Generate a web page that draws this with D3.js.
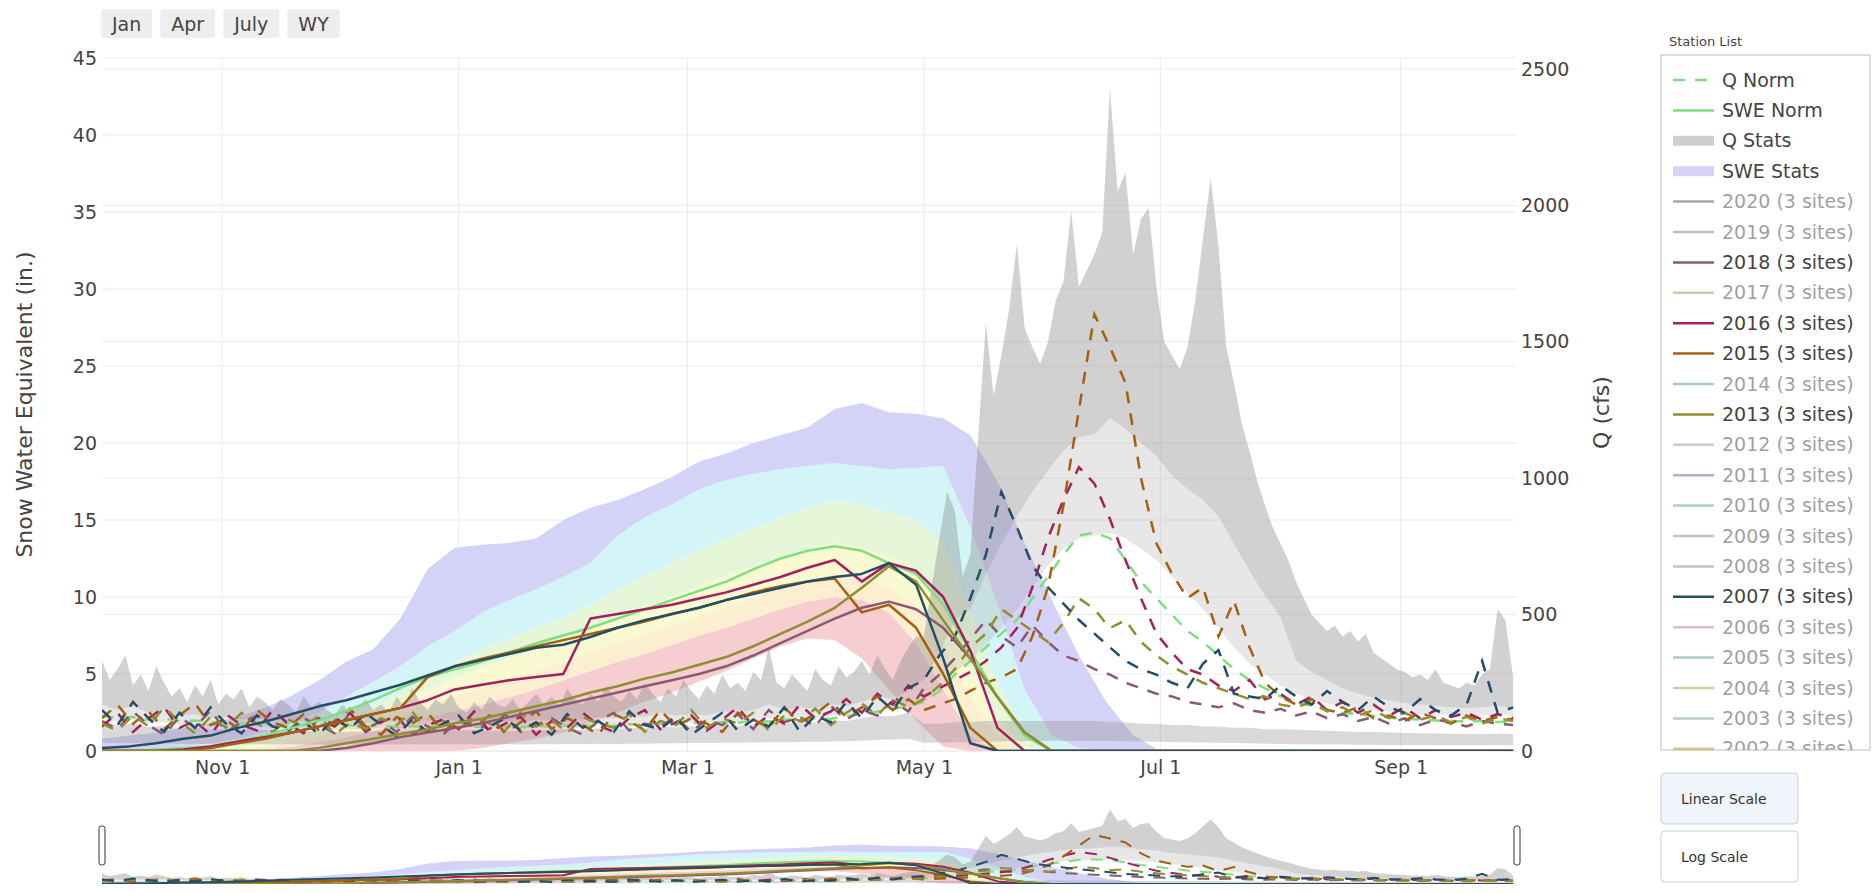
<!DOCTYPE html>
<html>
<head>
<meta charset="utf-8">
<script src="https://cdn.jsdelivr.net/npm/d3@7"></script>
<style>
  body { margin: 0; background: #fff; }
  text { font-family: "DejaVu Sans", Verdana, sans-serif; }
</style>
</head>
<body>
<div id="chart"></div>
<script>
// water year, Oct 1 -> Sep 30
var wyStart = new Date(Date.UTC(2020, 9, 1));
var wyEnd = new Date(Date.UTC(2021, 9, 1));

var sweDates = d3.range(53).map(function(i) { return d3.utcDay.offset(wyStart, 7 * i); });
var qDates = d3.range(92).map(function(i) { return d3.utcDay.offset(wyStart, 4 * i); });
var qMaxDates = d3.range(183).map(function(i) { return d3.utcDay.offset(wyStart, 2 * i); });

// ---- SWE stats (in.) ----
var sweMin = [0,0,0,0,0,0,0,0,0,0,0,0,0,0,0.2,0.5,0.8,1.2,1.8,2.5,3.2,3.8,4.5,5.2,6.0,6.8,7.3,7.2,6.0,4.0,2.0,0.3,0,0,0,0,0,0,0,0,0,0,0,0,0,0,0,0,0,0,0,0,0];
var sweP10 = [0,0,0,0,0,0,0.1,0.3,0.6,0.9,1.3,1.8,2.2,2.6,3.0,3.5,4.0,4.6,5.2,5.8,6.3,6.9,7.5,8.0,8.6,9.2,9.7,10.0,9.8,9.0,7.0,4.0,1.0,0,0,0,0,0,0,0,0,0,0,0,0,0,0,0,0,0,0,0,0];
var sweP25 = [0,0,0,0,0,0.1,0.3,0.6,1.0,1.4,1.9,2.4,3.0,3.6,4.1,4.6,5.2,5.8,6.4,7.0,7.6,8.2,8.8,9.4,10.0,10.6,11.1,11.5,11.3,10.6,9.5,7.0,3.5,1.0,0,0,0,0,0,0,0,0,0,0,0,0,0,0,0,0,0,0,0];
var sweP50 = [0,0,0,0,0.1,0.3,0.6,1.0,1.4,1.9,2.5,3.2,4.0,4.8,5.4,6.0,6.6,7.2,7.9,8.6,9.3,10.0,10.7,11.4,12.0,12.6,13.1,13.5,13.2,12.6,11.8,9.5,5.5,2.0,0.3,0,0,0,0,0,0,0,0,0,0,0,0,0,0,0,0,0,0];
var sweP75 = [0,0,0,0.1,0.3,0.5,0.8,1.2,1.7,2.3,3.0,3.8,4.8,5.8,6.6,7.3,8.0,8.7,9.5,10.5,11.4,12.2,13.0,13.8,14.5,15.2,15.8,16.3,16.0,15.5,15.0,13.5,9.0,4.5,1.0,0.2,0,0,0,0,0,0,0,0,0,0,0,0,0,0,0,0,0];
var sweP90 = [0,0,0.1,0.3,0.5,0.8,1.2,1.8,2.5,3.5,4.5,5.5,6.8,7.8,9.0,9.8,10.5,11.3,12.2,14.0,15.2,16.0,17.0,17.6,18.0,18.3,18.5,18.7,18.5,18.3,18.4,18.5,14.5,9.5,4.0,1.0,0.2,0,0,0,0,0,0,0,0,0,0,0,0,0,0,0,0];
var sweMax = [0.8,1.0,1.2,1.5,1.8,2.2,2.8,3.6,4.6,5.8,6.6,8.6,11.8,13.2,13.4,13.5,13.8,15.0,15.8,16.3,17.0,17.8,18.8,19.3,20.0,20.5,21.0,22.2,22.6,22.0,21.9,21.6,20.5,17.5,13.5,9.8,6.2,3.2,1.0,0,0,0,0,0,0,0,0,0,0,0,0,0,0];

// ---- SWE lines (in.) ----
var sweNorm = [0,0,0.1,0.2,0.3,0.6,1.0,1.5,2.0,2.6,3.3,4.1,4.8,5.3,5.8,6.4,7.0,7.5,8.0,8.6,9.2,9.8,10.4,11.0,11.8,12.5,13.0,13.3,13.0,12.2,11.5,9.5,6.5,3.5,1.0,0,0,0,0,0,0,0,0,0,0,0,0,0,0,0,0,0,0];
var swe2018 = [0,0,0,0,0,0,0,0,0,0.2,0.5,0.9,1.2,1.5,1.8,2.2,2.6,3.0,3.4,3.8,4.2,4.6,5.0,5.5,6.2,7.0,7.8,8.6,9.3,9.7,9.2,8.0,6.0,3.5,1.2,0,0,0,0,0,0,0,0,0,0,0,0,0,0,0,0,0,0];
var swe2016 = [0,0,0,0.1,0.3,0.6,0.9,1.2,1.6,2.0,2.4,2.8,3.3,4.0,4.3,4.6,4.8,5.0,8.6,8.9,9.2,9.5,9.9,10.3,10.8,11.3,11.9,12.4,11.0,12.2,11.7,10.0,6.5,1.5,0,0,0,0,0,0,0,0,0,0,0,0,0,0,0,0,0,0,0];
var swe2015 = [0,0,0,0,0.2,0.5,0.8,1.2,1.6,2.0,2.4,2.8,4.8,5.5,6.0,6.4,6.8,7.2,7.6,8.0,8.4,8.9,9.3,9.8,10.3,10.7,11.0,11.2,9.0,9.5,8.0,5.0,1.5,0,0,0,0,0,0,0,0,0,0,0,0,0,0,0,0,0,0,0,0];
var swe2013 = [0,0,0,0,0,0,0,0,0.2,0.5,0.8,1.1,1.4,1.8,2.1,2.5,2.9,3.3,3.8,4.2,4.7,5.1,5.6,6.1,6.8,7.6,8.4,9.3,10.6,12.0,11.0,8.5,6.0,3.5,1.2,0,0,0,0,0,0,0,0,0,0,0,0,0,0,0,0,0,0];
var swe2007 = [0.2,0.3,0.5,0.8,1.0,1.5,1.9,2.4,2.9,3.3,3.8,4.3,4.9,5.5,5.9,6.3,6.7,6.9,7.4,8.0,8.5,8.9,9.3,9.8,10.2,10.6,11.0,11.3,11.5,12.2,10.8,6.0,0.5,0,0,0,0,0,0,0,0,0,0,0,0,0,0,0,0,0,0,0,0];

// ---- Q stats (cfs) ----
var qMin = [30,28,29,27,28,26,27,25,26,25,25,24,25, 24,24,23,24,23,24,24,25,24,25,25,25,24, 25,24,25,25,26,26,27,26,27,27,28,28,29, 29,30,30,31,32,32,33,34,35,36,38,40,42,45,
  30,30,32,33,34,35,36,37,38,38, 38,38,37,36,35,34,33,32,31,30, 29,28,27,26,25,25,24,24,23,23, 22,22,22,21,21,21,21,22,21];
var q25 = [106,93,102,88,93,84,86,79,81,77,79,74,77, 71,74,70,71,70,74,71,77,74,78,75,77,73, 75,73,77,75,80,78,83,80,85,84,89,87,91, 89,94,93,98,104,100,106,104,112,110,120,128,128,140,
  100,100,105,105,110,110,110,110,110,110, 110,110,105,105,100,100,95,95,90,90, 85,85,80,80,78,76,74,72,70,70, 68,66,65,64,63,62,62,63,62];
var q75 = [120,105,115,100,105,95,98,90,92,88,90,85,88, 82,85,80,82,80,85,82,88,85,90,86,88,84, 86,84,88,86,92,90,95,92,98,96,102,100,104, 102,108,106,112,120,115,122,120,130,128,140,150,150,165,
  185,230,290,330,390,450,520,600,680,740, 780,790,800,780,740,700,640,580,520,450, 380,320,280,240,210,190,175,165,158,150, 145,140,136,133,130,128,130,135,128];
var q90 = [170,150,165,140,150,130,135,120,125,115,120,110,115, 105,110,100,105,100,110,105,115,110,120,110,115,105, 110,105,115,110,120,115,125,120,130,125,140,130,135, 130,145,140,150,170,150,160,155,170,165,180,200,190,220,
  260,360,480,520,650,760,860,950,1030,1100, 1150,1160,1220,1180,1130,1080,1010,960,920,860, 760,660,570,490,330,290,260,230,210,195, 185,175,170,165,160,158,160,165,158];
var qMax = [330,260,300,350,240,280,220,310,250,200,230, 180,240,200,260,170,210,190,230,160,200,180, 150,190,170,140,200,160,180,150,130,170,140,
  160,190,150,170,140,200,160,230,180,150,190, 170,210,160,140,180,150,200,170,160,190,150, 180,210,170,200,160,230,190,170,210,180,240,
  200,180,220,190,250,210,180,230,200,260,220, 190,240,210,280,230,250,220,290,260,380,250, 230,280,250,220,300,260,240,310,270,290,330,
  280,350,300,260,330,380,420,
  420,600,780,950,880,640,720,1150,1570,1300, 1450,1620,1860,1550,1480,1420,1500,1650,1720,1980,
  1700,1760,1820,1900,2430,2050,2120,1820,1950,1990, 1700,1500,1450,1400,1480,1650,1880,2100,1850,1480,
  1350,1200,1100,990,900,820,760,700,620,560, 500,470,440,460,420,440,400,430,360,340,
  320,300,290,270,280,260,300,250,240,230, 250,240,280,300,520,480,270];

// ---- Q lines (cfs) ----
var qNorm = [130,120,125,115,118,110,112,105,108,100,104,98,100, 95,98,92,94,90,93,88,91,87,90,86,89,88, 90,87,92,89,94,90,95,92,98,95,100,97,103, 100,106,104,110,108,115,112,120,118,128,135,145,155,165,
  180,220,280,330,380,430,480,560,640,720, 790,800,780,700,620,560,500,440,400,350, 300,260,230,200,180,165,150,140,135,128, 122,118,115,112,110,108,110,106,108];
var q2018 = [110,80,145,95,60,125,85,150,70,105,130,90,75, 120,95,65,140,80,110,70,125,90,60,115,100,80, 135,70,95,120,85,60,110,140,75,100,90,125,70, 115,95,135,80,150,105,125,90,165,115,150,130,185,145,
  230,280,340,410,480,420,380,460,400,350, 330,300,280,250,230,210,200,180,170,160, 175,150,140,155,130,145,120,135,110,125, 100,120,95,115,105,90,110,100,95];
var q2016 = [90,140,70,120,160,85,110,60,135,95,75,150,100, 65,120,90,140,70,105,130,60,95,115,80,145,70, 100,125,60,110,85,140,95,70,120,150,80,105,130, 75,115,160,90,130,100,170,120,145,190,140,210,170,240,
  200,230,260,290,330,380,450,600,780,920, 1040,980,850,700,560,430,360,300,280,240, 220,260,190,210,170,200,150,180,140,170, 130,160,120,150,125,140,115,135,120];
var q2015 = [120,170,100,145,80,130,175,95,115,70,150,105,85, 135,75,110,155,90,60,125,100,140,70,115,90,130, 65,105,145,80,120,95,60,135,110,75,150,90,120, 100,70,140,115,85,160,105,135,180,125,160,200,150,190,
  150,170,190,220,250,270,300,420,600,900, 1250,1600,1480,1350,1000,760,650,560,600,420, 550,380,250,200,170,190,150,140,160,120, 130,110,140,120,100,130,110,125,115];
var q2013 = [100,75,130,90,160,110,65,125,85,140,100,70,115, 90,130,60,105,80,120,95,145,70,110,85,125,100, 75,140,90,115,65,125,100,85,135,70,110,95,150, 85,120,100,140,75,130,110,155,95,140,175,130,190,160,
  190,240,300,380,430,520,480,440,400,470, 560,520,450,480,400,350,310,280,250,230, 210,190,200,170,160,180,145,160,130,150, 120,140,115,130,105,125,100,120,110];
var q2007 = [150,95,180,120,70,140,85,160,100,65,130,90,75, 110,60,125,80,140,95,55,115,70,100,130,65,90, 120,75,105,60,135,85,110,70,145,95,80,125,60, 100,140,75,115,90,160,70,130,105,180,120,200,150,230,
  260,350,420,560,720,950,820,680,600,540, 480,430,380,330,300,280,250,230,320,370, 210,200,190,240,200,170,220,180,150,200, 160,140,190,150,130,170,330,140,160];

// legend
var legendYears = [2020,2019,2018,2017,2016,2015,2014,2013,2012,2011,2010,2009,2008,2007,2006,2005,2004,2003,2002];
var yearColors = ["#555555","#7f7f99","#8c5a6e","#8fa35a","#a3205f","#a3600f","#5a9a88","#8f8f2f","#999999","#5f7088","#5aa096","#8e7f96","#8a8a8a","#244e66","#b38591","#5f9a80","#a8a040","#709aa0","#c8883a"];
var shownYears = [2018, 2016, 2015, 2013, 2007];
var rangeButtons = ["Jan", "Apr", "July", "WY"];
var scaleButtons = ["Linear Scale", "Log Scale"];

var normColor = "#7fdf7f";
var textColor = "#444";

function colorOf(yr) { return yearColors[legendYears.indexOf(yr)]; }

var sweBands = [
  {lo: sweMin, hi: sweP10, color: "#f6cdd1"},
  {lo: sweP10, hi: sweP25, color: "#fbefd0"},
  {lo: sweP25, hi: sweP50, color: "#fafad2"},
  {lo: sweP50, hi: sweP75, color: "#e6f7d9"},
  {lo: sweP75, hi: sweP90, color: "#d3f5f7"},
  {lo: sweP90, hi: sweMax, color: "#d4d2f7"}
];
var qBands = [
  {lo: qMin, hi: q25, color: "rgba(140,140,140,0.33)"},
  {lo: q75, hi: q90, color: "rgba(160,160,160,0.25)"}
];
var qLines = [
  {values: qNorm, color: normColor},
  {values: q2018, color: colorOf(2018)},
  {values: q2016, color: colorOf(2016)},
  {values: q2015, color: colorOf(2015)},
  {values: q2013, color: colorOf(2013)},
  {values: q2007, color: colorOf(2007)}
];
var sweLines = [
  {values: sweNorm, color: normColor},
  {values: swe2018, color: colorOf(2018)},
  {values: swe2016, color: colorOf(2016)},
  {values: swe2015, color: colorOf(2015)},
  {values: swe2013, color: colorOf(2013)},
  {values: swe2007, color: colorOf(2007)}
];

// layout
var W = 1874, H = 893;
var plot = {left: 102, right: 1517, top: 58, bottom: 751};
var mini = {top: 806, bottom: 884};

var svg = d3.select("#chart").append("svg")
  .attr("width", W)
  .attr("height", H);

var x = d3.scaleUtc().domain([wyStart, wyEnd]).range([plot.left, plot.right]);
var ySwe = d3.scaleLinear().domain([0, 45]).range([plot.bottom, plot.top]);
var yQ = d3.scaleLinear().domain([0, 2540]).range([plot.bottom, plot.top]);
var ySweMini = d3.scaleLinear().domain([0, 45]).range([mini.bottom, mini.top]);
var yQMini = d3.scaleLinear().domain([0, 2540]).range([mini.bottom, mini.top]);

var defs = svg.append("defs");
defs.append("clipPath").attr("id", "clipMain").append("rect")
  .attr("x", plot.left).attr("y", plot.top)
  .attr("width", plot.right - plot.left).attr("height", plot.bottom - plot.top);
defs.append("clipPath").attr("id", "clipMini").append("rect")
  .attr("x", plot.left).attr("y", mini.top)
  .attr("width", plot.right - plot.left).attr("height", mini.bottom - mini.top);

// grid lines
var grid = svg.append("g");
var xTicks = x.ticks(d3.utcMonth.every(2));
grid.selectAll("line.gx").data(xTicks).enter().append("line")
  .attr("x1", d => x(d)).attr("x2", d => x(d))
  .attr("y1", plot.top).attr("y2", plot.bottom)
  .attr("stroke", "#ebebeb").attr("stroke-width", 1);
grid.selectAll("line.gy").data(ySwe.ticks(9)).enter().append("line")
  .attr("x1", plot.left).attr("x2", plot.right)
  .attr("y1", d => ySwe(d)).attr("y2", d => ySwe(d))
  .attr("stroke", "#ebebeb").attr("stroke-width", 1);
grid.selectAll("line.gq").data(yQ.ticks(5)).enter().append("line")
  .attr("x1", plot.left).attr("x2", plot.right)
  .attr("y1", d => yQ(d)).attr("y2", d => yQ(d))
  .attr("stroke", "#ebebeb").attr("stroke-width", 1);

// all traces, drawn for the main plot and again for the range slider
function drawTraces(g, ys, yq, lw) {
  sweBands.forEach(function(b) {
    var area = d3.area()
      .x(function(d, i) { return x(sweDates[i]); })
      .y0(function(d, i) { return ys(b.lo[i]); })
      .y1(function(d) { return ys(d); });
    g.append("path").datum(b.hi).attr("d", area).attr("fill", b.color);
  });
  qBands.forEach(function(b) {
    var area = d3.area()
      .x(function(d, i) { return x(qDates[i]); })
      .y0(function(d, i) { return yq(b.lo[i]); })
      .y1(function(d) { return yq(d); });
    g.append("path").datum(b.hi).attr("d", area).attr("fill", b.color);
  });
  // q90 -> max band: max is on a finer grid, so close the shape by hand
  var topPts = qMax.map(function(v, i) { return [x(qMaxDates[i]), yq(v)]; });
  var lowPts = q90.map(function(v, i) { return [x(qDates[i]), yq(v)]; }).reverse();
  g.append("path").attr("d", d3.line()(topPts.concat(lowPts)) + "Z")
    .attr("fill", "rgba(140,140,140,0.40)");

  var qLine = d3.line().x(function(d, i) { return x(qDates[i]); }).y(function(d) { return yq(d); });
  qLines.forEach(function(s) {
    g.append("path").datum(s.values).attr("d", qLine)
      .attr("fill", "none").attr("stroke", s.color)
      .attr("stroke-width", lw).attr("stroke-dasharray", "12,10");
  });
  var sLine = d3.line().x(function(d, i) { return x(sweDates[i]); }).y(function(d) { return ys(d); });
  sweLines.forEach(function(s) {
    g.append("path").datum(s.values).attr("d", sLine)
      .attr("fill", "none").attr("stroke", s.color)
      .attr("stroke-width", lw).attr("stroke-linejoin", "round");
  });
}

drawTraces(svg.append("g").attr("clip-path", "url(#clipMain)"), ySwe, yQ, 2.5);
drawTraces(svg.append("g").attr("clip-path", "url(#clipMini)"), ySweMini, yQMini, 2);

// axes
var xAxis = svg.append("g")
  .attr("transform", `translate(0, ${plot.bottom})`)
  .call(d3.axisBottom(x).tickValues(xTicks).tickFormat(d3.utcFormat("%b %-d")).tickSize(0).tickPadding(10));
var leftAxis = svg.append("g")
  .attr("transform", `translate(${plot.left}, 0)`)
  .call(d3.axisLeft(ySwe).ticks(9).tickSize(0).tickPadding(5));
var rightAxis = svg.append("g")
  .attr("transform", `translate(${plot.right}, 0)`)
  .call(d3.axisRight(yQ).ticks(5).tickFormat(d3.format("d")).tickSize(0).tickPadding(4));
[xAxis, leftAxis, rightAxis].forEach(function(a) {
  a.select(".domain").remove();
  a.selectAll("text")
    .style("font-family", '"DejaVu Sans", Verdana, sans-serif')
    .style("font-size", "19px")
    .attr("fill", textColor);
});

// axis titles
svg.append("text")
  .attr("transform", `translate(24, ${(plot.top + plot.bottom) / 2}) rotate(-90)`)
  .attr("text-anchor", "middle").attr("dy", "0.35em")
  .attr("font-size", "22px").attr("fill", textColor)
  .text("Snow Water Equivalent (in.)");
svg.append("text")
  .attr("transform", `translate(1601, ${(plot.top + plot.bottom) / 2 + 8}) rotate(-90)`)
  .attr("text-anchor", "middle").attr("dy", "0.35em")
  .attr("font-size", "22px").attr("fill", textColor)
  .text("Q (cfs)");

// range slider grabbers
[plot.left, plot.right].forEach(function(px) {
  svg.append("rect")
    .attr("x", px - 3).attr("y", 826).attr("width", 6).attr("height", 39)
    .attr("rx", 2.5).attr("fill", "#fff").attr("stroke", "#333").attr("stroke-width", 1);
});

// range selector buttons
var bx = 101;
rangeButtons.forEach(function(label) {
  var g = svg.append("g");
  var t = g.append("text").attr("y", 24).attr("dy", "0.35em")
    .attr("font-size", "19px").attr("fill", textColor).text(label);
  var w = t.node().getComputedTextLength() + 22;
  g.insert("rect", "text").attr("x", bx).attr("y", 9).attr("width", w).attr("height", 29)
    .attr("rx", 3).attr("fill", "#eeeeee");
  t.attr("x", bx + 11);
  bx += w + 8;
});

// legend
var legend = svg.append("g");
defs.append("clipPath").attr("id", "clipLegend").append("rect")
  .attr("x", 1661).attr("y", 56).attr("width", 209).attr("height", 694);
legend.append("text").attr("x", 1669).attr("y", 41).attr("dy", "0.35em")
  .attr("font-size", "13px").attr("fill", textColor).text("Station List");
legend.append("rect").attr("x", 1661).attr("y", 55).attr("width", 209).attr("height", 695)
  .attr("fill", "#fff").attr("stroke", "#d4d4d4").attr("stroke-width", 1.5);

var items = [
  {name: "Q Norm", kind: "dash", color: normColor, on: true},
  {name: "SWE Norm", kind: "line", color: normColor, on: true},
  {name: "Q Stats", kind: "band", color: "#cfcfcf", on: true},
  {name: "SWE Stats", kind: "band", color: "#d4d2f7", on: true}
];
legendYears.forEach(function(yr, i) {
  items.push({name: yr + " (3 sites)", kind: "line", color: yearColors[i], on: shownYears.indexOf(yr) >= 0});
});

var rows = legend.append("g").attr("clip-path", "url(#clipLegend)");
items.forEach(function(it, i) {
  var cy = 80 + i * 30.4;
  var row = rows.append("g").attr("opacity", it.on ? 1 : 0.5);
  if (it.kind === "band") {
    row.append("rect").attr("x", 1673).attr("y", cy - 5).attr("width", 41).attr("height", 10)
      .attr("fill", it.color);
  } else {
    row.append("line").attr("x1", 1673).attr("x2", 1714).attr("y1", cy).attr("y2", cy)
      .attr("stroke", it.color).attr("stroke-width", 2.5)
      .attr("stroke-dasharray", it.kind === "dash" ? "12,10" : null);
  }
  row.append("text").attr("x", 1722).attr("y", cy).attr("dy", "0.35em")
    .attr("font-size", "19px").attr("fill", textColor).text(it.name);
});

// scale buttons
scaleButtons.forEach(function(label, i) {
  var top = 773 + i * 58;
  svg.append("rect").attr("x", 1661).attr("y", top).attr("width", 137).attr("height", 51)
    .attr("rx", 4).attr("fill", i === 0 ? "#f0f5fb" : "#fff")
    .attr("stroke", "#c9ced6").attr("stroke-width", 1);
  svg.append("text").attr("x", 1681).attr("y", top + 26).attr("dy", "0.35em")
    .attr("font-size", "14px").attr("fill", "#333").text(label);
});
</script>
</body>
</html>
